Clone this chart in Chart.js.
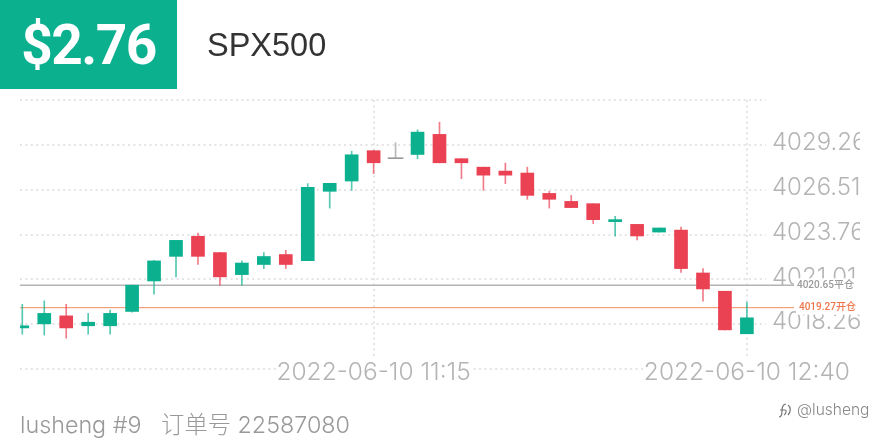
<!DOCTYPE html>
<html lang="en">
<head>
<meta charset="UTF-8">
<title>SPX500</title>
<script src="https://cdn.jsdelivr.net/npm/chart.js"></script>
<style>
    html, body { margin: 0; padding: 0; background: #fff; width: 880px; height: 440px; overflow: hidden; }
    #chart { position: absolute; left: 0; top: 0; }
    .txt { position: absolute; white-space: pre; font-family: Inter, "Noto Sans CJK SC", sans-serif; }
    #profit { left: 0; top: 0; width: 177px; height: 89px; background: #0bb08f; color: #fff; font-family: Roboto, sans-serif; font-weight: 700; font-size: 55px; line-height: 91px; text-align: center; letter-spacing: -1.5px; }
    #symbol { left: 207px; top: 24px; font-size: 32.5px; line-height: 42px; color: #333; font-family: "Liberation Sans", sans-serif; }
    #order { left: 20px; top: 410px; font-size: 23.3px; line-height: 30px; color: #999; font-weight: 300; }
    #mark { left: 797px; top: 401px; font-size: 15.5px; line-height: 18px; color: #888; font-weight: 300; }
    #weibo { position: absolute; left: 778px; top: 402px; }
</style>
</head>
<body>
<canvas id="chart" width="860" height="440"></canvas>
<div class="txt" id="profit">$2.76</div>
<div class="txt" id="symbol">SPX500</div>
<div class="txt" id="order">lusheng #9   订单号 22587080</div>
<svg id="weibo" width="15" height="17" viewBox="0 0 15 17" fill="none" stroke="#777" stroke-width="1.2">
    <path d="M8 2 C5 2 4 6 4 9 C4 12 3 15 1 15"/>
    <path d="M2 8 H7 C9 8 8 12 6 13"/>
    <path d="M10 3 C13 5 13 10 10 13"/>
</svg>
<div class="txt" id="mark">@lusheng</div>

<script>
// candles
const opens = [4018.03, 4018.28, 4018.77, 4018.16, 4018.16, 4019.04, 4020.91, 4022.42, 4023.65, 4022.65, 4021.30, 4021.92,
    4022.53, 4022.16, 4026.41, 4027.04, 4028.90, 4028.41, 4028.67, 4029.90, 4028.41, 4027.89, 4027.65, 4027.53,
    4026.28, 4025.79, 4025.65, 4024.55, 4024.38, 4023.91, 4024.03, 4021.40, 4020.28, 4017.67];
const closes = [4018.16, 4018.92, 4018.03, 4018.38, 4018.92, 4020.65, 4022.14, 4023.40, 4022.42, 4021.16, 4022.01, 4022.41,
    4021.92, 4026.65, 4026.90, 4028.65, 4028.16, 4028.41, 4030.04, 4028.16, 4028.16, 4027.40, 4027.40, 4026.16,
    4025.92, 4025.41, 4024.67, 4024.67, 4023.67, 4024.16, 4021.67, 4020.42, 4017.91, 4018.65];
const highs = [4019.48, 4019.69, 4019.48, 4018.92, 4019.12, 4020.65, 4022.18, 4023.40, 4023.85, 4022.67, 4022.14, 4022.65,
    4022.79, 4026.88, 4026.90, 4028.87, 4028.92, 4029.39, 4030.18, 4030.65, 4028.41, 4027.89, 4028.14, 4027.89,
    4026.41, 4026.16, 4025.65, 4024.87, 4024.38, 4024.16, 4024.22, 4021.67, 4020.28, 4019.61];
const lows = [4017.65, 4017.59, 4017.40, 4017.65, 4017.65, 4018.99, 4020.10, 4021.16, 4021.93, 4020.65, 4020.65, 4021.67,
    4021.67, 4022.16, 4025.38, 4026.47, 4027.49, 4028.41, 4028.41, 4028.16, 4027.18, 4026.47, 4026.88, 4025.92,
    4025.38, 4025.41, 4024.43, 4023.65, 4023.42, 4023.91, 4021.44, 4019.67, 4017.91, 4017.67];

const yTicks = [4015.51, 4018.26, 4021.01, 4023.76, 4026.51, 4029.26, 4032.01];
const yTickLabels = ['', '4018.26', '4021.01', '4023.76', '4026.51', '4029.26', ''];
const xTicks = [16, 33];
const xTickLabels = ['2022-06-10 11:15', '2022-06-10 12:40'];

const closePrice = 4020.65, closeLabel = '4020.65平仓';
const openPrice = 4019.27, openLabel = '4019.27开仓';

const UP = '#0bb08f', DOWN = '#ea4153', FLAT = '#9a9a9a';
const GRID = '#e4e4e4', TICK = '#b4b4b4';

function candleColor(i) {
    if (closes[i] > opens[i]) return UP;
    if (closes[i] < opens[i]) return DOWN;
    return FLAT;
}

// the two price lines sit under the candles and run out past the plot
const priceLines = {
    id: 'priceLines',
    beforeDatasetsDraw(chart) {
        const ctx = chart.ctx, y = chart.scales.y;
        const draw = (price, text, color, textColor, width, labelLeft) => {
            const py = y.getPixelForValue(price);
            ctx.save();
            ctx.fillStyle = '#fff';
            ctx.fillRect(labelLeft - 3, py - 7, 860 - labelLeft + 3, 14);
            ctx.strokeStyle = color;
            ctx.lineWidth = width;
            ctx.beginPath();
            ctx.moveTo(chart.chartArea.left, py);
            ctx.lineTo(794, py);
            ctx.stroke();
            ctx.fillStyle = textColor;
            ctx.font = '500 10px Roboto, "Noto Sans CJK SC", sans-serif';
            ctx.textBaseline = 'middle';
            ctx.textAlign = 'left';
            ctx.fillText(text, labelLeft, py);
            ctx.restore();
        };
        draw(closePrice, closeLabel, '#b4b4b4', '#999', 1.5, 797);
        draw(openPrice, openLabel, '#f28a5e', '#f0764a', 1, 799);
    }
};

new Chart(document.getElementById('chart'), {
    type: 'bar',
    plugins: [priceLines],
    data: {
        datasets: [
            {
                data: highs.map((h, i) => ({ x: i, y: [lows[i], h] })),
                backgroundColor: highs.map((_, i) => candleColor(i) + 'b0'),
                barThickness: 1,
                order: 3
            },
            {
                data: opens.map((o, i) => ({ x: i, y: [o, closes[i]] })).filter(d => d.y[0] !== d.y[1]),
                backgroundColor: opens.map((_, i) => i).filter(i => opens[i] !== closes[i]).map(candleColor),
                barThickness: 13,
                minBarLength: 2,
                order: 1
            },
            {
                data: opens.map((o, i) => ({ x: i, y: [o, closes[i]] })).filter(d => d.y[0] === d.y[1]),
                backgroundColor: FLAT,
                barThickness: 15,
                minBarLength: 1,
                order: 2
            }
        ]
    },
    options: {
        responsive: false,
        animation: false,
        devicePixelRatio: 1,
        layout: { padding: { left: 20, top: 100, right: 0, bottom: 0 } },
        plugins: { legend: { display: false }, tooltip: { enabled: false } },
        datasets: { bar: { grouped: false, borderWidth: 0, borderSkipped: false } },
        scales: {
            x: {
                type: 'linear',
                offset: false,
                min: -0.105,
                max: 33.87,
                afterBuildTicks(scale) { scale.ticks = xTicks.map(v => ({ value: v })); },
                afterFit(scale) {
                    scale.height = 71;
                    scale.paddingLeft = 0;
                    scale.paddingRight = 0;
                },
                grid: { offset: false, color: GRID, lineWidth: 2, drawTicks: false },
                border: { display: false, dash: [2, 3.4] },
                ticks: {
                    autoSkip: false,
                    maxRotation: 0,
                    // mirror turns off the label clip at the top of the axis
                    mirror: true,
                    padding: -18,
                    color: TICK,
                    font: { family: 'Inter', size: 24.5, weight: 300 },
                    showLabelBackdrop: true,
                    backdropColor: '#fff',
                    backdropPadding: { x: 0, y: 0 },
                    callback: v => xTickLabels[xTicks.indexOf(v)]
                }
            },
            y: {
                position: 'right',
                min: yTicks[0],
                max: yTicks[yTicks.length - 1],
                afterBuildTicks(scale) { scale.ticks = yTicks.map(v => ({ value: v })); },
                afterFit(scale) { scale.width = 94; },
                grid: { color: GRID, lineWidth: 2, drawTicks: false },
                border: { display: false, dash: [2, 3.4] },
                ticks: {
                    padding: 6,
                    labelOffset: -2,
                    color: TICK,
                    font: { family: 'Inter', size: 24, weight: 300 },
                    callback: v => yTickLabels[yTicks.indexOf(v)]
                }
            }
        }
    }
});
</script>
</body>
</html>
